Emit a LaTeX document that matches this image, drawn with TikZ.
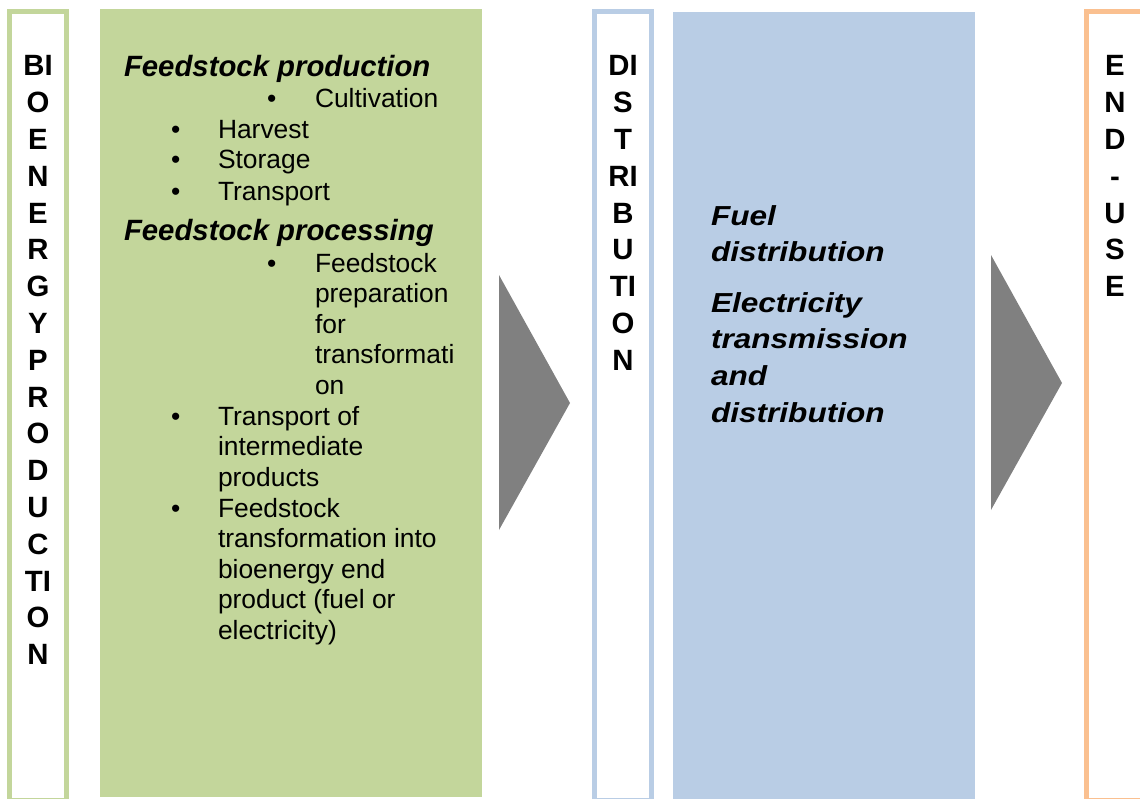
\documentclass[tikz,border=0pt]{standalone}
\usepackage{fontspec}
\setmainfont{Liberation Sans}
\newfontfamily\widesans[FakeStretch=1.15]{Liberation Sans}
\usepackage{xcolor}
\usepackage{tikz}

\definecolor{prodgreen}{HTML}{C3D69B}
\definecolor{distblue}{HTML}{B9CDE5}
\definecolor{useorange}{HTML}{FAC090}
\definecolor{arrowgray}{HTML}{808080}

% stacked lines, baseline on the first line
\newcommand{\lstack}[1]{\begin{tabular}[t]{@{}l@{}}#1\end{tabular}}
\newcommand{\cstack}[1]{\begin{tabular}[t]{@{}c@{}}#1\end{tabular}}

\begin{document}
\begin{tikzpicture} [
    x=0.75pt, y=-0.75pt,
    every node/.style = {inner sep=0pt, outer sep=0pt},
    frame/.style = {draw, line width=3.75pt, anchor=north west},
    panel/.style = {anchor=north west},
    stage/.style = {anchor=base, font=\bfseries\fontsize{22}{27.6}\selectfont},
    head/.style = {anchor=base west, font=\bfseries\itshape\fontsize{22}{27.6}\selectfont},
    item/.style = {anchor=base west, font=\fontsize{19.8}{22.9}\selectfont},
    note/.style = {anchor=base west, font=\widesans\bfseries\itshape\fontsize{20.6}{27.6}\selectfont}
]
    \useasboundingbox (0,0) rectangle (1140,799);
    \clip (0,0) rectangle (1140,799);

    % stage frames and panels
    \node (bioframe) [frame, draw=prodgreen, minimum width=42.75pt, minimum height=592pt] at (9.5,11.5) {};
    \node (prodbox) [panel, fill=prodgreen, minimum width=286.5pt, minimum height=591pt] at (100,9) {};
    \node (distframe) [frame, draw=distblue, minimum width=42.75pt, minimum height=592pt] at (594.5,11.5) {};
    \node (distbox) [panel, fill=distblue, minimum width=226.5pt, minimum height=591pt] at (673,12) {};
    \node (useframe) [frame, draw=useorange, minimum width=55pt, minimum height=592pt] at (1086.5,11.5) {};

    % arrows
    \fill[arrowgray] (499,275) -- (570,403) -- (499,530) -- cycle;
    \fill[arrowgray] (991,255) -- (1062,383) -- (991,510) -- cycle;

    % stage labels
    \node (bio) [stage] at (38,76) {\cstack{BI\\O\\E\\N\\E\\R\\G\\Y\\P\\R\\O\\D\\U\\C\\TI\\O\\N}};
    \node (dist) [stage] at (623,76) {\cstack{DI\\S\\T\\RI\\B\\U\\TI\\O\\N}};
    \node (use) [stage] at (1115,76) {\cstack{E\\N\\D\\-\\U\\S\\E}};

    % feedstock production
    \node (fprod) [head] at (124,77) {Feedstock production};
    \node (b1) [item] at (267,108) {\textbullet};
    \node (cult) [item] at (315,108) {Cultivation};
    \node (b2) [item] at (171,138) {\textbullet};
    \node (harv) [item] at (218,138) {Harvest};
    \node (b3) [item] at (171,169) {\textbullet};
    \node (stor) [item] at (218,169) {Storage};
    \node (b4) [item] at (171,200) {\textbullet};
    \node (trans) [item] at (218,200) {Transport};

    % feedstock processing
    \node (fproc) [head] at (124,240) {Feedstock processing};
    \node (b5) [item] at (267,272) {\textbullet};
    \node (prep) [item] at (315,272) {\lstack{Feedstock\\preparation\\for\\transformati\\on}};
    \node (b6) [item] at (171,425) {\textbullet};
    \node (inter) [item] at (218,425) {\lstack{Transport of\\intermediate\\products}};
    \node (b7) [item] at (171,517) {\textbullet};
    \node (conv) [item] at (218,517) {\lstack{Feedstock\\transformation into\\bioenergy end\\product (fuel or\\electricity)}};

    % distribution
    \node (fuel) [note] at (711,225) {\lstack{Fuel\\distribution}};
    \node (elec) [note] at (711,312) {\lstack{Electricity\\transmission\\and\\distribution}};
\end{tikzpicture}
\end{document}
